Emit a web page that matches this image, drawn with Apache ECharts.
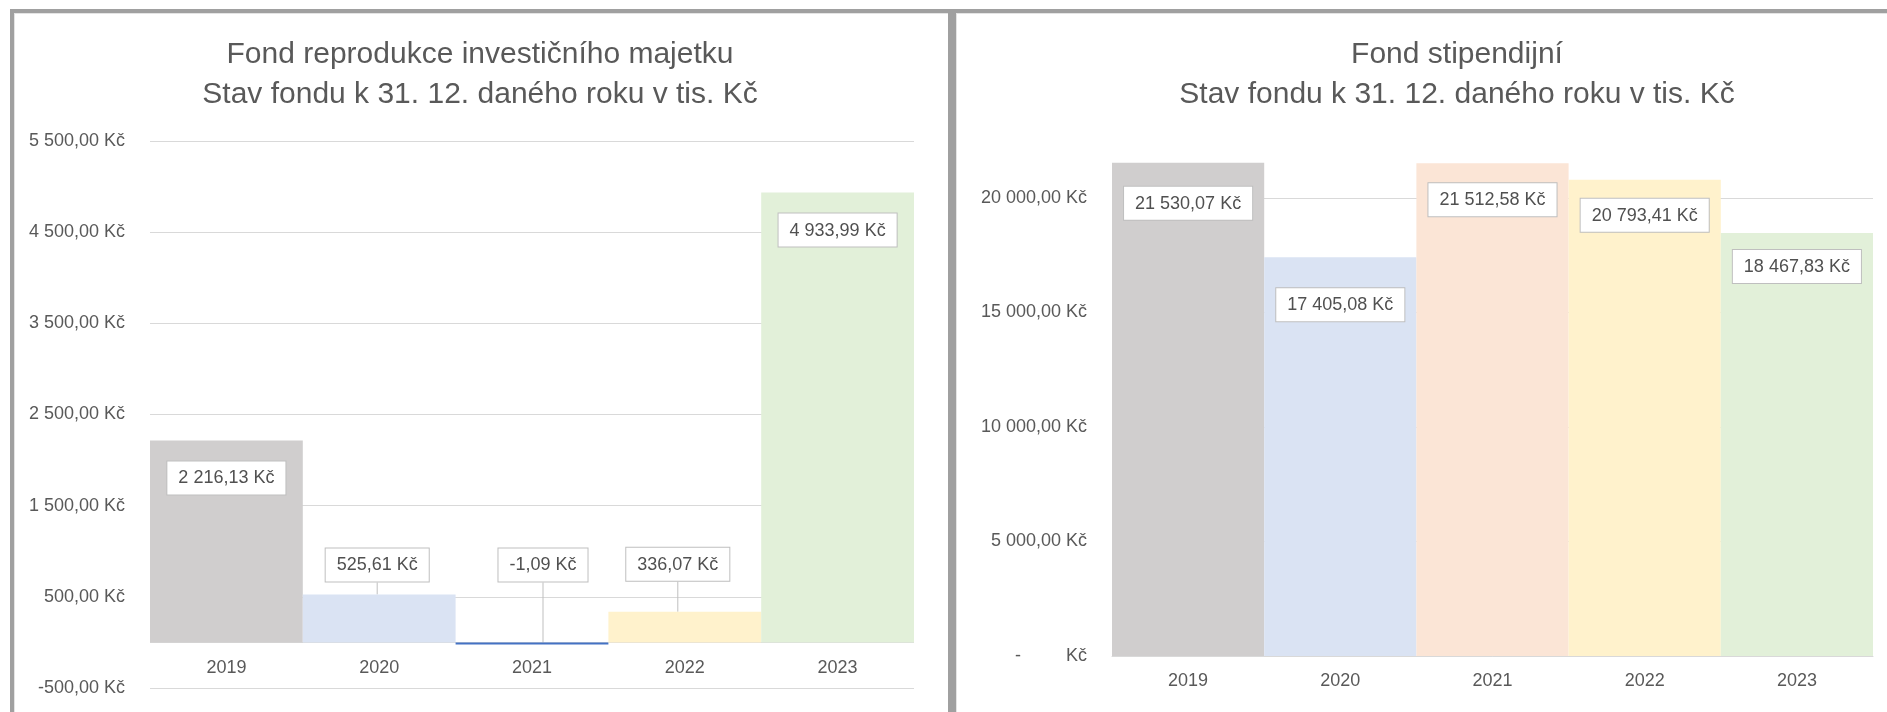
<!DOCTYPE html>
<html lang="cs">
<head>
<meta charset="UTF-8">
<title>Fondy</title>
<script src="https://cdn.jsdelivr.net/npm/echarts@6.0.0/dist/echarts.min.js"></script>
<style>
  html, body { margin: 0; padding: 0; background: #fff; }
  .panel { position: absolute; top: 9px; height: 720px; border-top: 4px solid #a0a0a0; box-shadow: inset 1px 1px 0 #e4e4e4; }
  #p1 { left: 10px; width: 934px; border-left: 4px solid #a0a0a0; border-right: 4px solid #a0a0a0; }
  #p2 { left: 952px; width: 960px; border-left: 4px solid #a0a0a0; }
  #main { position: absolute; left: 0; top: 0; width: 1887px; height: 712px; }
</style>
</head>
<body>
<div class="panel" id="p1"></div>
<div class="panel" id="p2"></div>
<div id="main"></div>
<script type="text/javascript">
  // data
  const years = ['2019', '2020', '2021', '2022', '2023'];
  const fondReprodukce = [2216.13, 525.61, -1.09, 336.07, 4933.99];
  const fondStipendijni = [21530.07, 17405.08, 21512.58, 20793.41, 18467.83];
  const titleLeft = ['Fond reprodukce investičního majetku', 'Stav fondu k 31. 12. daného roku v tis. Kč'];
  const titleRight = ['Fond stipendijní', 'Stav fondu k 31. 12. daného roku v tis. Kč'];

  const barColors = ['#d0cece', '#dae3f3', '#fbe5d6', '#fff2cc', '#e2f0d9'];
  const negColor = '#4472c4';
  const font = '"Liberation Sans", Arial, sans-serif';
  const textGray = '#595959';
  const lineGray = '#d9d9d9';

  // 2 216,13 Kč style (zero like Excel accounting format)
  function czk(v) {
    if (v === 0) return '-         Kč';
    const parts = Math.abs(v).toFixed(2).split('.');
    const whole = parts[0].replace(/\B(?=(\d{3})+(?!\d))/g, ' ');
    return (v < 0 ? '-' : '') + whole + ',' + parts[1] + ' Kč';
  }

  function labelBox(gap) {
    return {
      show: true,
      position: 'insideTop',
      distance: gap,
      formatter: p => czk(p.value),
      fontFamily: font,
      fontSize: 18,
      color: '#505050',
      backgroundColor: '#fff',
      borderColor: '#bfbfbf',
      borderWidth: 1,
      padding: [8, 11, 7, 11]
    };
  }

  // label gaps below bar top (px) in the right chart
  const rightGaps = [24, 31, 20, 19, 17];
  // callout labels of the small bars in the left chart (offset in px)
  const callout = { 1: { dx: -2, dy: 8 }, 2: { dx: 11, dy: -40 }, 3: { dx: -7, dy: -10 } };

  function xAxisOf(i, onZero, margin) {
    return {
      type: 'category', gridIndex: i, data: years,
      axisLine: { show: !!onZero, onZero: !!onZero, lineStyle: { color: lineGray, width: 1 } },
      axisTick: { show: false },
      axisLabel: { color: textGray, fontFamily: font, fontSize: 18, margin: margin }
    };
  }

  let myChart = echarts.init(document.getElementById('main'), null, { renderer: 'canvas' });

  let options = {
    animation: false,
    graphic: [
      { type: 'text', x: 480, y: 35, style: { text: titleLeft.join('\n'), align: 'center', fontFamily: font, fontSize: 30, lineHeight: 40, fill: textGray } },
      { type: 'text', x: 1457, y: 35, style: { text: titleRight.join('\n'), align: 'center', fontFamily: font, fontSize: 30, lineHeight: 40, fill: textGray } }
    ],
    grid: [
      { left: 150, right: 973, top: 141, bottom: 24, outerBoundsMode: 'none', containLabel: false },
      { left: 1112, right: 14, top: 152, bottom: 56, outerBoundsMode: 'none', containLabel: false }
    ],
    // left chart: labels sit just under the zero line, not under the -500 line
    xAxis: [xAxisOf(0, false, -29), xAxisOf(1, true, 16)],
    yAxis: [
      {
        type: 'value', gridIndex: 0, min: -500, max: 5500, interval: 1000,
        axisLabel: { formatter: czk, color: textGray, fontFamily: font, fontSize: 18, margin: 25 },
        splitLine: { lineStyle: { color: lineGray } }
      },
      {
        type: 'value', gridIndex: 1, min: 0, max: 22000, interval: 5000,
        axisLabel: { formatter: czk, color: textGray, fontFamily: font, fontSize: 18, margin: 25, showMaxLabel: false },
        splitLine: { showMaxLine: false, lineStyle: { color: lineGray } }
      }
    ],
    series: [
      {
        type: 'bar', xAxisIndex: 0, yAxisIndex: 0,
        barCategoryGap: 0, barMinHeight: 2,
        data: fondReprodukce.map((v, i) => {
          const item = { value: v, itemStyle: { color: v < 0 ? negColor : barColors[i] } };
          if (callout[i]) {
            item.label = { position: 'top' };
            item.labelLine = { show: true };
          }
          return item;
        }),
        label: labelBox(21),
        labelLine: { show: false, lineStyle: { color: '#bfbfbf', width: 1 } },
        labelLayout: p => callout[p.dataIndex] || {},
        markLine: {
          silent: true, symbol: 'none', z: 1,
          label: { show: false },
          lineStyle: { color: lineGray, type: 'solid', width: 1 },
          data: [{ yAxis: 0 }]
        }
      },
      {
        type: 'bar', xAxisIndex: 1, yAxisIndex: 1,
        barCategoryGap: 0,
        data: fondStipendijni.map((v, i) => ({
          value: v,
          itemStyle: { color: barColors[i] },
          label: { distance: rightGaps[i] }
        })),
        label: labelBox(21)
      }
    ]
  };

  myChart.setOption(options);
</script>
</body>
</html>
